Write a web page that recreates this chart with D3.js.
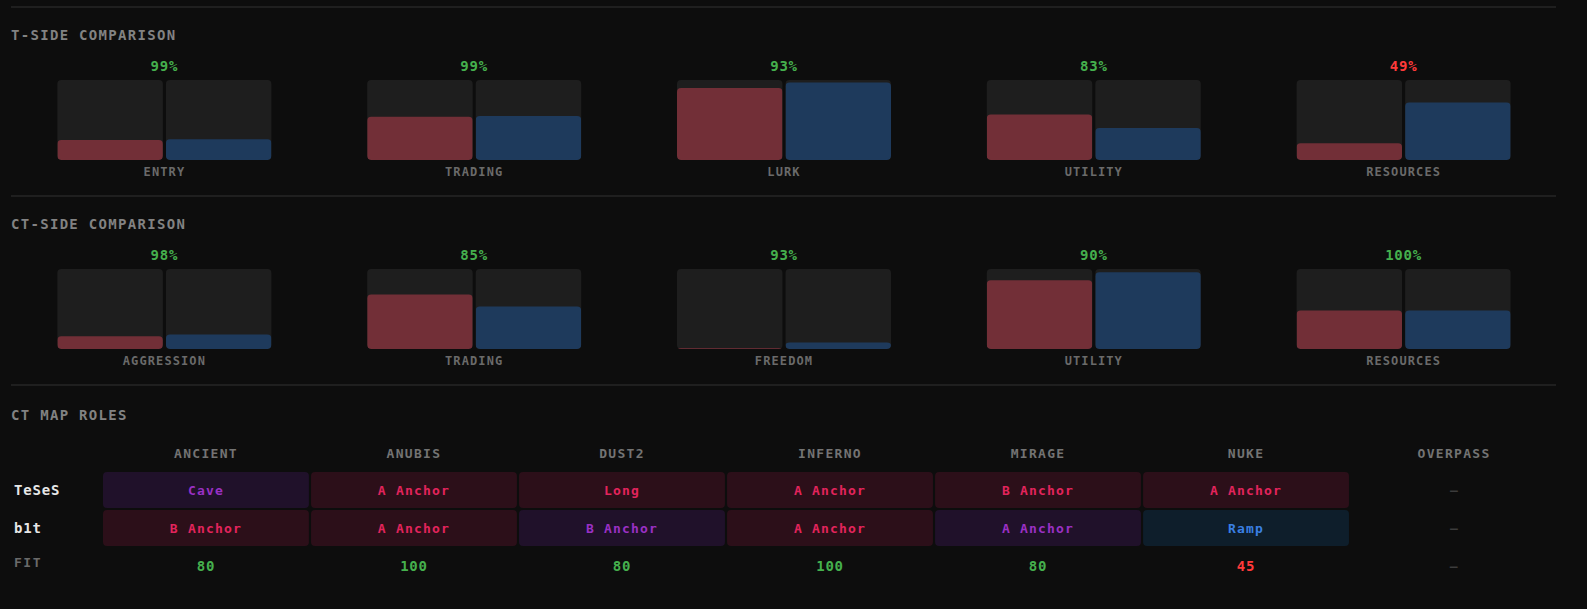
<!DOCTYPE html>
<html>
<head>
<meta charset="utf-8">
<script src="https://cdn.jsdelivr.net/npm/d3@7"></script>
<style>
  html, body { margin: 0; padding: 0; background: #0d0d0d; }
  svg text { font-family: "DejaVu Sans Mono", "Liberation Mono", monospace; font-weight: bold; }
</style>
</head>
<body>
<div id="chart"></div>
<script>
// T-side comparison (values in % of track height)
const tCats = ["ENTRY", "TRADING", "LURK", "UTILITY", "RESOURCES"];
const tTeses = [25, 54, 90, 57, 21];
const tB1t = [26, 55, 97, 40, 72];
const tMatch = [99, 99, 93, 83, 49];

// CT-side comparison
const ctCats = ["AGGRESSION", "TRADING", "FREEDOM", "UTILITY", "RESOURCES"];
const ctTeses = [16, 68, 1, 86, 48];
const ctB1t = [18, 53, 8, 96, 48];
const ctMatch = [98, 85, 93, 90, 100];

// CT map roles
const maps = ["ANCIENT", "ANUBIS", "DUST2", "INFERNO", "MIRAGE", "NUKE", "OVERPASS"];
const players = ["TeSeS", "b1t"];
const tesesRoles = ["Cave", "A Anchor", "Long", "A Anchor", "B Anchor", "A Anchor", null];
const b1tRoles = ["B Anchor", "A Anchor", "B Anchor", "A Anchor", "A Anchor", "Ramp", null];
const tesesKind = ["purple", "red", "red", "red", "red", "red", null];
const b1tKind = ["red", "red", "purple", "red", "purple", "blue", null];
const fit = [80, 100, 80, 100, 80, 45, null];

const W = 1587, H = 609;
const left = 11, right = 1556;

const svg = d3.select("#chart").append("svg")
    .attr("width", W)
    .attr("height", H);

const roleStyle = {
    red: {bg: "#2c0f19", fg: "#e2245c"},
    purple: {bg: "#20112a", fg: "#9a30c4"},
    blue: {bg: "#0e1e2b", fg: "#3a80e4"}
};

function sepLine(y) {
    svg.append("line")
        .attr("x1", left).attr("x2", right)
        .attr("y1", y).attr("y2", y)
        .attr("stroke", "#262626")
        .attr("stroke-width", 1.5);
}

function title(txt, y) {
    svg.append("text")
        .attr("x", left)
        .attr("y", y)
        .attr("dy", "0.35em")
        .attr("fill", "#828282")
        .attr("font-size", 14)
        .attr("letter-spacing", 1.3)
        .text(txt);
}

function comparison(cats, a, b, match, top) {
    const x = d3.scaleBand().domain(cats).range([left, right + 4]);
    const trackTop = top + 73, trackH = 80;
    const y = d3.scaleLinear().domain([0, 100]).range([trackH, 0]);

    const g = svg.append("g");
    cats.forEach((c, i) => {
        const cx = x(c) + x.bandwidth() / 2 - 1.5;
        const pair = d3.scaleBand().domain([0, 1]).range([cx - 107, cx + 107]).paddingInner(0.028);
        const vals = [a[i], b[i]];
        const cols = ["#722f37", "#1e3a5c"];

        const gg = g.append("g").attr("transform", `translate(0,${trackTop})`);
        const clipId = "clip-" + top + "-" + i;
        const clip = gg.append("clipPath").attr("id", clipId);

        [0, 1].forEach(k => {
            clip.append("rect")
                .attr("x", pair(k)).attr("y", 0)
                .attr("width", pair.bandwidth()).attr("height", trackH)
                .attr("rx", 4);
            gg.append("rect")
                .attr("x", pair(k)).attr("y", 0)
                .attr("width", pair.bandwidth()).attr("height", trackH)
                .attr("rx", 4)
                .attr("fill", "#1e1e1e");
        });
        const fills = gg.append("g").attr("clip-path", `url(#${clipId})`);
        [0, 1].forEach(k => {
            fills.append("rect")
                .attr("x", pair(k))
                .attr("y", y(vals[k]))
                .attr("width", pair.bandwidth())
                .attr("height", trackH - y(vals[k]))
                .attr("rx", vals[k] > 5 ? 4 : 0)
                .attr("fill", cols[k]);
        });

        g.append("text")
            .attr("x", cx)
            .attr("y", top + 59)
            .attr("dy", "0.35em")
            .attr("text-anchor", "middle")
            .attr("font-size", 14)
            .attr("letter-spacing", 0.8)
            .attr("fill", match[i] >= 60 ? "#45b04d" : "#ff3a3a")
            .text(match[i] + "%");

        g.append("text")
            .attr("x", cx)
            .attr("y", trackTop + trackH + 12)
            .attr("dy", "0.35em")
            .attr("text-anchor", "middle")
            .attr("font-size", 12)
            .attr("letter-spacing", 1.1)
            .attr("fill", "#6a6a6a")
            .text(c);
    });
}

sepLine(7);
title("T-SIDE COMPARISON", 35);
comparison(tCats, tTeses, tB1t, tMatch, 7);

sepLine(196);
title("CT-SIDE COMPARISON", 224);
comparison(ctCats, ctTeses, ctB1t, ctMatch, 196);

sepLine(385);
title("CT MAP ROLES", 415);

// table
const mx = d3.scaleBand().domain(maps).range([103, 1557]).paddingInner(0.01);
const ry = d3.scaleBand().domain(players).range([472, 546]).paddingInner(0.054);
const rows = [
    {name: "TeSeS", roles: tesesRoles, kinds: tesesKind},
    {name: "b1t", roles: b1tRoles, kinds: b1tKind}
];

const tbl = svg.append("g");
tbl.selectAll("text.head")
    .data(maps)
    .join("text")
    .attr("class", "head")
    .attr("x", d => mx(d) + mx.bandwidth() / 2)
    .attr("y", 453)
    .attr("dy", "0.35em")
    .attr("text-anchor", "middle")
    .attr("font-size", 13)
    .attr("letter-spacing", 1.3)
    .attr("fill", "#737373")
    .text(d => d);

rows.forEach(r => {
    const yy = ry(r.name), hh = ry.bandwidth();
    tbl.append("text")
        .attr("x", 14)
        .attr("y", yy + hh / 2)
        .attr("dy", "0.35em")
        .attr("font-size", 14)
        .attr("letter-spacing", 0.8)
        .attr("fill", "#e6e6e6")
        .text(r.name);

    maps.forEach((m, j) => {
        const cxm = mx(m) + mx.bandwidth() / 2;
        if (r.roles[j] == null) {
            tbl.append("text")
                .attr("x", cxm).attr("y", yy + hh / 2)
                .attr("dy", "0.35em")
                .attr("text-anchor", "middle")
                .attr("font-size", 13)
                .attr("fill", "#3c3c3c")
                .text("—");
            return;
        }
        const st = roleStyle[r.kinds[j]];
        tbl.append("rect")
            .attr("x", mx(m)).attr("y", yy)
            .attr("width", mx.bandwidth()).attr("height", hh)
            .attr("rx", 4)
            .attr("fill", st.bg);
        tbl.append("text")
            .attr("x", cxm).attr("y", yy + hh / 2)
            .attr("dy", "0.35em")
            .attr("text-anchor", "middle")
            .attr("font-size", 13)
            .attr("letter-spacing", 1.2)
            .attr("fill", st.fg)
            .text(r.roles[j]);
    });
});

tbl.append("text")
    .attr("x", 14)
    .attr("y", 562)
    .attr("dy", "0.35em")
    .attr("font-size", 13)
    .attr("letter-spacing", 1.5)
    .attr("fill", "#6a6a6a")
    .text("FIT");

maps.forEach((m, j) => {
    tbl.append("text")
        .attr("x", mx(m) + mx.bandwidth() / 2)
        .attr("y", 566)
        .attr("dy", "0.35em")
        .attr("text-anchor", "middle")
        .attr("font-size", fit[j] == null ? 13 : 14)
        .attr("letter-spacing", 0.8)
        .attr("fill", fit[j] == null ? "#3c3c3c" : (fit[j] >= 60 ? "#45b04d" : "#ff3a3a"))
        .text(fit[j] == null ? "—" : fit[j]);
});
</script>
</body>
</html>
